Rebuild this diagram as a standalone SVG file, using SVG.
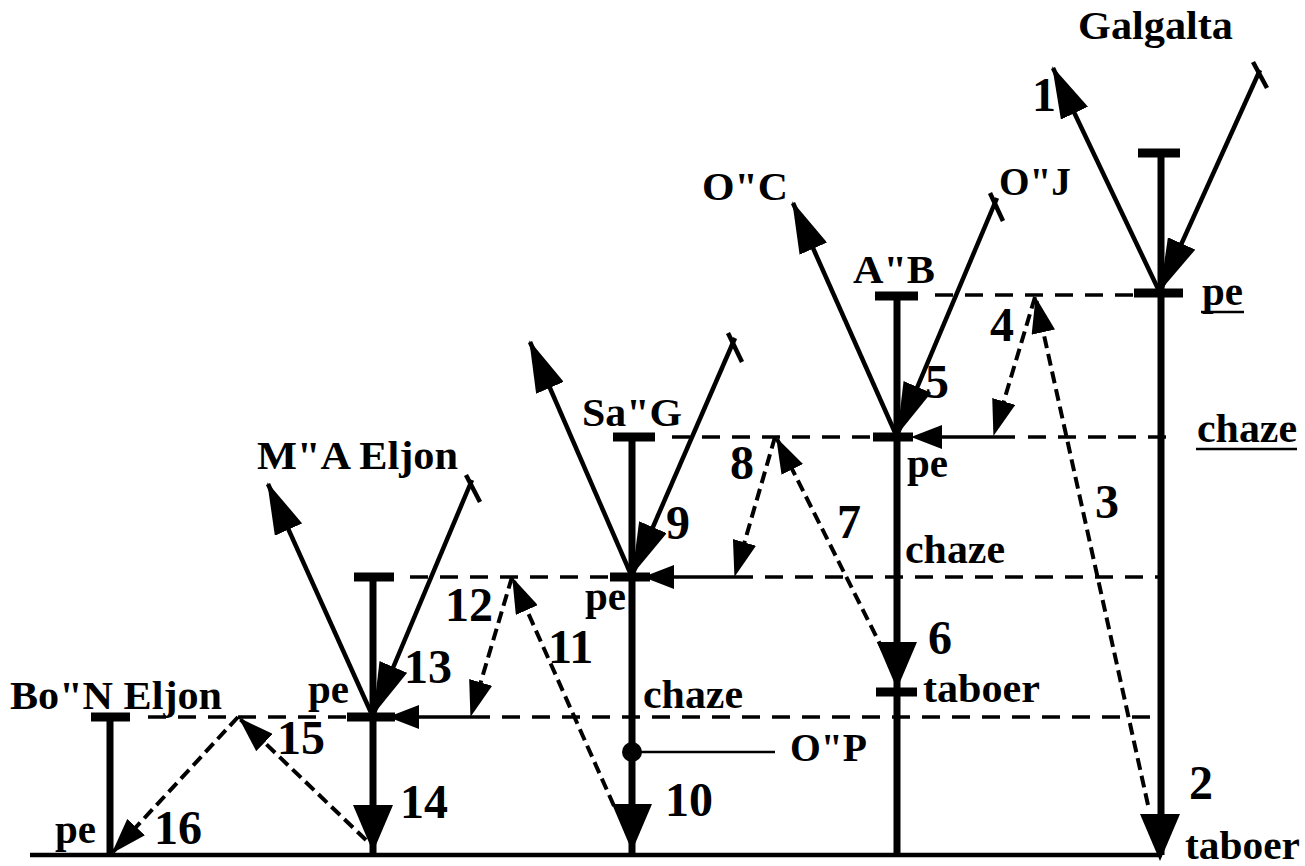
<svg xmlns="http://www.w3.org/2000/svg" width="1305" height="866" viewBox="0 0 1305 866">
<style>
text{font-family:"Liberation Serif","Times New Roman",serif;font-weight:bold;fill:#000}
.nm{font-size:40px}
.lv{font-size:41px}
.dg{font-size:48px}
.vert{stroke:#000;stroke-width:7;fill:none}
.bar{stroke:#000;stroke-width:9;fill:none}
.arm{stroke:#000;stroke-width:4.5;fill:none}
.tick{stroke:#000;stroke-width:4.5;fill:none}
.hs{stroke:#000;stroke-width:3.5;fill:none}
.dh{stroke:#000;stroke-width:3.5;fill:none;stroke-dasharray:18 12}
.dd{stroke:#000;stroke-width:4;fill:none;stroke-dasharray:12 6}
.ul{stroke:#000;stroke-width:2.5}
</style>
<defs>
<marker id="ah" markerUnits="userSpaceOnUse" markerWidth="52" markerHeight="30" viewBox="0 0 52 30" refX="50" refY="15" orient="auto"><path d="M0,0 L52,15 L0,30 Z" fill="#000"/></marker>
<marker id="ad" markerUnits="userSpaceOnUse" markerWidth="36" markerHeight="24" viewBox="0 0 36 24" refX="34" refY="12" orient="auto"><path d="M0,0 L36,12 L0,24 Z" fill="#000"/></marker>
<path id="vh" d="M-20,-47 L20,-47 L0,0 Z" fill="#000"/>
<path id="hh" d="M0,0 L31,-12 L31,12 Z" fill="#000"/>
</defs>
<rect width="1305" height="866" fill="#fff"/>

<g id="baseline">
<line x1="30" y1="855" x2="1162" y2="855" stroke="#000" stroke-width="4.5"/>
</g>

<g id="galgalta">
<line class="vert" x1="1161" y1="153" x2="1161" y2="855"/>
<line class="bar" x1="1138" y1="153" x2="1180" y2="153"/>
<line class="bar" x1="1134" y1="293" x2="1183" y2="293"/>
<use href="#vh" x="1160" y="861"/>
<text class="nm" x="1078" y="39" textLength="155" lengthAdjust="spacingAndGlyphs">Galgalta</text>
<text class="lv" x="1202" y="305">pe</text>
<line class="ul" x1="1201" y1="312" x2="1244" y2="312"/>
<text class="lv" x="1197" y="442" textLength="100" lengthAdjust="spacingAndGlyphs">chaze</text>
<line class="ul" x1="1196" y1="449" x2="1297" y2="449"/>
<text class="lv" x="1185" y="859" textLength="115" lengthAdjust="spacingAndGlyphs">taboer</text>
</g>

<g id="ab">
<line class="vert" x1="897" y1="296" x2="897" y2="855"/>
<line class="bar" x1="875" y1="296" x2="918" y2="296"/>
<line class="bar" x1="873" y1="437" x2="913" y2="437"/>
<line class="bar" x1="876" y1="692" x2="917" y2="692" stroke-width="7"/>
<use href="#vh" x="897" y="689"/>
<text class="nm" x="853" y="283" textLength="82" lengthAdjust="spacingAndGlyphs">A"B</text>
<text class="nm" x="702" y="200" textLength="86" lengthAdjust="spacingAndGlyphs">O"C</text>
<text class="nm" x="999" y="195" textLength="72" lengthAdjust="spacingAndGlyphs">O"J</text>
<text class="lv" x="907" y="477">pe</text>
<text class="lv" x="905" y="563" textLength="100" lengthAdjust="spacingAndGlyphs">chaze</text>
<text class="lv" x="923" y="702" textLength="117" lengthAdjust="spacingAndGlyphs">taboer</text>
</g>

<g id="sag">
<line class="vert" x1="632" y1="437" x2="632" y2="855"/>
<line class="bar" x1="613" y1="437" x2="655" y2="437"/>
<line class="bar" x1="610" y1="577" x2="650" y2="577"/>
<use href="#vh" x="632" y="851"/>
<circle cx="632" cy="752" r="10" fill="#000"/>
<line x1="632" y1="752" x2="775" y2="752" stroke="#000" stroke-width="2.5"/>
<text class="nm" x="582" y="426" textLength="100" lengthAdjust="spacingAndGlyphs">Sa"G</text>
<text class="nm" x="790" y="761" textLength="77" lengthAdjust="spacingAndGlyphs">O"P</text>
<text class="lv" x="585" y="610">pe</text>
<text class="lv" x="643" y="708" textLength="100" lengthAdjust="spacingAndGlyphs">chaze</text>
</g>

<g id="ma">
<line class="vert" x1="373" y1="577" x2="373" y2="855"/>
<line class="bar" x1="354" y1="577" x2="394" y2="577"/>
<line class="bar" x1="347" y1="717" x2="395" y2="717"/>
<use href="#vh" x="373" y="852"/>
<text class="nm" x="257" y="469" textLength="201" lengthAdjust="spacingAndGlyphs">M"A Eljon</text>
<text class="lv" x="308" y="703">pe</text>
</g>

<g id="bon">
<line class="vert" x1="110" y1="717" x2="110" y2="855"/>
<line class="bar" x1="91" y1="717" x2="130" y2="717"/>
<text class="nm" x="10" y="709" textLength="212" lengthAdjust="spacingAndGlyphs">Bo"N Eljon</text>
<text class="lv" x="55" y="843">pe</text>
</g>

<g id="connectors">
<line class="dh" x1="935" y1="295" x2="1133" y2="295"/>
<line class="dh" x1="672" y1="437" x2="873" y2="437"/>
<use href="#hh" x="911" y="437"/>
<line class="hs" x1="940" y1="437" x2="1015" y2="437"/>
<line class="dh" x1="1028" y1="437" x2="1176" y2="437"/>
<line class="dh" x1="410" y1="577" x2="610" y2="577"/>
<use href="#hh" x="643" y="577"/>
<line class="hs" x1="672" y1="577" x2="753" y2="577"/>
<line class="dh" x1="765" y1="577" x2="1158" y2="577"/>
<line class="dh" x1="148" y1="717" x2="347" y2="717"/>
<use href="#hh" x="388" y="717"/>
<line class="hs" x1="417" y1="717" x2="490" y2="717"/>
<line class="dh" x1="502" y1="717" x2="1158" y2="717"/>

<line class="arm" x1="1160" y1="293" x2="1053" y2="68" marker-end="url(#ah)"/>
<line class="arm" x1="1260" y1="70" x2="1161" y2="289" marker-end="url(#ah)"/>
<line class="tick" x1="1253" y1="62" x2="1267" y2="88"/>
<line class="arm" x1="897" y1="437" x2="793" y2="203" marker-end="url(#ah)"/>
<line class="arm" x1="997" y1="198" x2="898" y2="433" marker-end="url(#ah)"/>
<line class="tick" x1="990" y1="193" x2="1003" y2="221"/>
<line class="arm" x1="632" y1="577" x2="530" y2="342" marker-end="url(#ah)"/>
<line class="arm" x1="735" y1="338" x2="633" y2="573" marker-end="url(#ah)"/>
<line class="tick" x1="728" y1="333" x2="742" y2="362"/>
<line class="arm" x1="373" y1="717" x2="268" y2="484" marker-end="url(#ah)"/>
<line class="arm" x1="472" y1="480" x2="374" y2="713" marker-end="url(#ah)"/>
<line class="tick" x1="466" y1="475" x2="480" y2="502"/>

<line class="dd" x1="1148" y1="805" x2="1036" y2="299" marker-end="url(#ad)"/>
<line class="dd" x1="1035" y1="297" x2="994" y2="434" marker-end="url(#ad)"/>
<line class="dd" x1="884" y1="652" x2="777" y2="439" marker-end="url(#ad)"/>
<line class="dd" x1="775" y1="437" x2="735" y2="575" marker-end="url(#ad)"/>
<line class="dd" x1="614" y1="806" x2="513" y2="579" marker-end="url(#ad)"/>
<line class="dd" x1="512" y1="577" x2="471" y2="715" marker-end="url(#ad)"/>
<line class="dd" x1="366" y1="840" x2="240" y2="719" marker-end="url(#ad)"/>
<line class="dd" x1="238" y1="717" x2="113" y2="852" marker-end="url(#ad)"/>
</g>

<g id="numbers">
<text class="dg" x="1032" y="111">1</text>
<text class="dg" x="1189" y="799">2</text>
<text class="dg" x="1095" y="518">3</text>
<text class="dg" x="990" y="341">4</text>
<text class="dg" x="925" y="398">5</text>
<text class="dg" x="928" y="654">6</text>
<text class="dg" x="837" y="538">7</text>
<text class="dg" x="730" y="479">8</text>
<text class="dg" x="666" y="539">9</text>
<text class="dg" x="665" y="816">10</text>
<text class="dg" x="548" y="663">11</text>
<text class="dg" x="445" y="621">12</text>
<text class="dg" x="404" y="683">13</text>
<text class="dg" x="400" y="818">14</text>
<text class="dg" x="277" y="754">15</text>
<text class="dg" x="154" y="844">16</text>
</g>
</svg>
